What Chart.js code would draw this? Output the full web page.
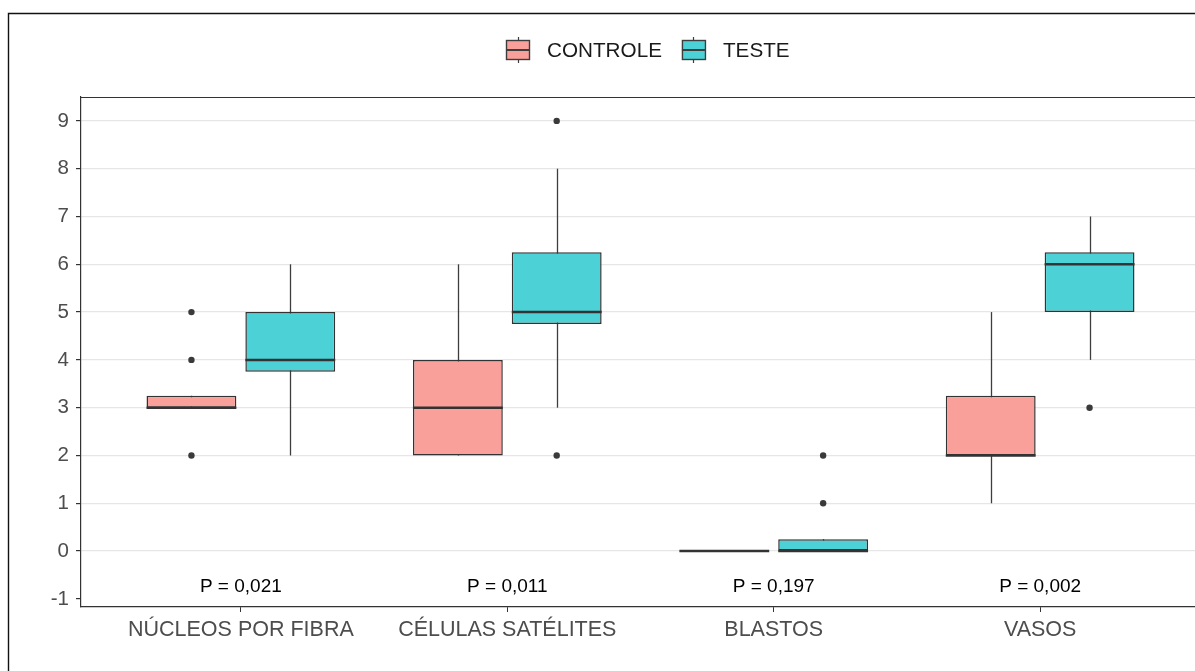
<!DOCTYPE html>
<html>
<head>
<meta charset="utf-8">
<script src="https://cdn.jsdelivr.net/npm/chart.js@4"></script>
<style>
  html, body { margin: 0; padding: 0; background: #fff; overflow: hidden; }
  #wrap { width: 1195px; height: 671px; overflow: hidden; position: relative; }
</style>
</head>
<body>
<div id="wrap"><canvas id="boxChart" width="1200" height="671"></canvas></div>
<script>
const categories = ["NÚCLEOS POR FIBRA", "CÉLULAS SATÉLITES", "BLASTOS", "VASOS"];
const groups = ["CONTROLE", "TESTE"];

// box stats
const controleQ1 = [3, 2, 0, 2];
const controleMedian = [3, 3, 0, 2];
const controleQ3 = [3.25, 4, 0, 3.25];
const controleLow = [3, 2, 0, 1];
const controleHigh = [3.25, 6, 0, 5];
const controleOutliers = [[2, 4, 5], [], [], []];

const testeQ1 = [3.75, 4.75, 0, 5];
const testeMedian = [4, 5, 0, 6];
const testeQ3 = [5, 6.25, 0.25, 6.25];
const testeLow = [2, 3, 0, 4];
const testeHigh = [6, 8, 0.25, 7];
const testeOutliers = [[], [2, 9], [1, 2], [3]];

const pLabels = ["P = 0,021", "P = 0,011", "P = 0,197", "P = 0,002"];
const pLabelY = -0.75;
const yTicks = [-1, 0, 1, 2, 3, 4, 5, 6, 7, 8, 9];

const FONT = "'Liberation Sans', Arial, sans-serif";
const groupColors = ["#F9A09A", "#4CD2D6"];
const stats = [
  { low: controleLow, high: controleHigh, median: controleMedian, outliers: controleOutliers },
  { low: testeLow, high: testeHigh, median: testeMedian, outliers: testeOutliers }
];

function boxData(q1, q3) {
  return categories.map((c, i) => ({ x: i + 1, y: [q1[i], q3[i]] }));
}

const boxExtras = {
  id: "boxExtras",
  beforeDatasetsDraw(chart) {
    const ctx = chart.ctx;
    const y = chart.scales.y;
    ctx.save();
    ctx.strokeStyle = "#3d3d3d";
    ctx.lineWidth = 1.3;
    stats.forEach((s, d) => {
      chart.getDatasetMeta(d).data.forEach((bar, i) => {
        const px = Math.round(bar.x) + 0.5;
        ctx.beginPath();
        ctx.moveTo(px, y.getPixelForValue(s.low[i]));
        ctx.lineTo(px, y.getPixelForValue(s.high[i]));
        ctx.stroke();
      });
    });
    ctx.restore();
  },
  afterDatasetsDraw(chart) {
    const ctx = chart.ctx;
    const y = chart.scales.y;
    const x = chart.scales.x;
    ctx.save();
    stats.forEach((s, d) => {
      chart.getDatasetMeta(d).data.forEach((bar, i) => {
        const half = bar.width / 2;
        const py = y.getPixelForValue(s.median[i]);
        ctx.strokeStyle = "#333";
        ctx.lineWidth = 2.5;
        ctx.beginPath();
        ctx.moveTo(bar.x - half, py);
        ctx.lineTo(bar.x + half, py);
        ctx.stroke();
        ctx.fillStyle = "#3a3a3a";
        s.outliers[i].forEach(v => {
          ctx.beginPath();
          ctx.arc(bar.x, y.getPixelForValue(v), 3.2, 0, Math.PI * 2);
          ctx.fill();
        });
      });
    });

    // p-values under each group
    ctx.fillStyle = "#000";
    ctx.font = "19px " + FONT;
    ctx.textAlign = "center";
    ctx.textBaseline = "middle";
    pLabels.forEach((t, i) => {
      ctx.fillText(t, x.getPixelForValue(i + 1), y.getPixelForValue(pLabelY));
    });

    // panel top border
    const a = chart.chartArea;
    ctx.strokeStyle = "#333";
    ctx.lineWidth = 1.2;
    ctx.beginPath();
    ctx.moveTo(a.left, a.top + 0.5);
    ctx.lineTo(a.right, a.top + 0.5);
    ctx.stroke();

    // outer frame
    ctx.strokeStyle = "#111";
    ctx.lineWidth = 1.4;
    ctx.beginPath();
    ctx.moveTo(8.5, chart.height);
    ctx.lineTo(8.5, 13.5);
    ctx.lineTo(chart.width, 13.5);
    ctx.stroke();

    // legend with boxplot keys
    ctx.font = "20.7px " + FONT;
    ctx.textAlign = "left";
    const keyW = 23, keyGap = 18, itemGap = 20;
    const widths = groups.map(g => keyW + keyGap + ctx.measureText(g).width);
    const total = widths.reduce((p, w) => p + w, 0) + itemGap * (groups.length - 1);
    let lx = Math.round(648 - total / 2);
    const ly = 50;
    groups.forEach((g, k) => {
      const cx = Math.round(lx + keyW / 2) + 0.5;
      ctx.strokeStyle = "#3d3d3d";
      ctx.lineWidth = 1.2;
      ctx.beginPath();
      ctx.moveTo(cx, ly - 13);
      ctx.lineTo(cx, ly + 13);
      ctx.stroke();
      ctx.fillStyle = groupColors[k];
      ctx.fillRect(lx, ly - 9.5, keyW, 19);
      ctx.strokeStyle = "#3d3d3d";
      ctx.lineWidth = 1.4;
      ctx.strokeRect(lx + 0.5, ly - 9.5, keyW, 19);
      ctx.lineWidth = 2;
      ctx.beginPath();
      ctx.moveTo(lx, ly);
      ctx.lineTo(lx + keyW, ly);
      ctx.stroke();
      ctx.fillStyle = "#1a1a1a";
      ctx.textBaseline = "middle";
      ctx.fillText(g, lx + keyW + keyGap, ly + 1);
      lx += widths[k] + itemGap;
    });
    ctx.restore();
  }
};

new Chart(document.getElementById("boxChart"), {
  type: "bar",
  data: {
    datasets: groups.map((g, d) => ({
      label: g,
      data: d === 0 ? boxData(controleQ1, controleQ3) : boxData(testeQ1, testeQ3),
      backgroundColor: groupColors[d],
      borderColor: "#333",
      borderWidth: 1.5,
      borderSkipped: false,
      categoryPercentage: 0.742,
      barPercentage: 0.909
    }))
  },
  options: {
    responsive: false,
    animation: false,
    layout: { padding: { top: 97, left: 0, right: 0, bottom: 0 } },
    plugins: { legend: { display: false }, tooltip: { enabled: false } },
    scales: {
      x: {
        type: "linear",
        min: 0.4,
        max: 4.6,
        offset: false,
        afterBuildTicks: ax => { ax.ticks = categories.map((c, i) => ({ value: i + 1 })); },
        afterFit: s => { s.height = 64; },
        ticks: {
          autoSkip: false,
          maxRotation: 0,
          padding: 5,
          color: "#4D4D4D",
          font: { family: FONT, size: 21.5 },
          callback: v => categories[v - 1]
        },
        grid: { offset: false, drawOnChartArea: false, tickLength: 5, tickColor: "#333" },
        border: { color: "#333", width: 1.2 }
      },
      y: {
        min: -1.17,
        max: 9.5,
        afterBuildTicks: ax => { ax.ticks = yTicks.map(v => ({ value: v })); },
        afterFit: s => { s.width = 81; },
        ticks: {
          padding: 7,
          color: "#4D4D4D",
          font: { family: FONT, size: 20.5 }
        },
        grid: {
          color: c => (c.tick && c.tick.value < 0) ? "rgba(0,0,0,0)" : "#E6E6E6",
          lineWidth: 1.2,
          tickLength: 5,
          tickColor: "#333"
        },
        border: { color: "#333", width: 1.2 }
      }
    }
  },
  plugins: [boxExtras]
});
</script>
</body>
</html>
